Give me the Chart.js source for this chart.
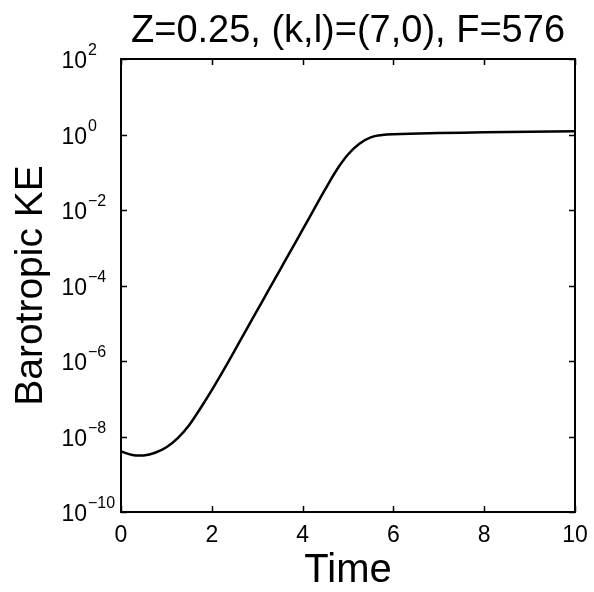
<!DOCTYPE html>
<html>
<head>
<meta charset="utf-8">
<script src="https://cdn.jsdelivr.net/npm/chart.js@4"></script>
<style>
  html, body { margin: 0; padding: 0; background: #fff; }
  canvas { display: block; }
</style>
</head>
<body>
<canvas id="c" width="594" height="592"></canvas>
<script>
// Barotropic kinetic energy against time (log scale)
const timeValues = [
  0, 0.25, 0.5, 0.75, 1.0, 1.25, 1.5, 1.75, 2.0, 2.25, 2.5, 2.75, 3.0,
  3.25, 3.5, 3.75, 4.0, 4.25, 4.5, 4.75, 5.0, 5.25, 5.5, 5.75, 6.0,
  7.0, 8.0, 9.0, 10.0
];
const keValues = [
  4.0e-9, 3.24e-9, 3.16e-9, 3.7e-9, 5.2e-9, 9.1e-9, 2.0e-8, 5.6e-8, 1.7e-7,
  5.5e-7, 1.86e-6, 6.4e-6, 2.19e-5, 7.5e-5, 2.57e-4, 8.8e-4, 3.0e-3, 1.04e-2,
  3.55e-2, 0.115, 0.295, 0.57, 0.84, 0.97, 1.02, 1.09, 1.14, 1.18, 1.22
];
const xTickValues = [0, 2, 4, 6, 8, 10];
const yTickExponents = [2, 0, -2, -4, -6, -8, -10];
const titleText = 'Z=0.25, (k,l)=(7,0), F=576';
const xTitleText = 'Time';
const yTitleText = 'Barotropic KE';

const FONT = '"Liberation Sans", Arial, Helvetica, sans-serif';

// Frame, inward ticks, tick labels and titles drawn from the chart's scales
const axesPlugin = {
  id: 'axesFrame',
  afterDraw(chart) {
    const { ctx, chartArea: a, scales } = chart;
    const xs = scales.x, ys = scales.y;
    const tickLen = 6;
    ctx.save();
    ctx.strokeStyle = '#000';
    ctx.fillStyle = '#000';

    // frame
    ctx.lineWidth = 2;
    ctx.strokeRect(a.left, a.top, a.right - a.left, a.bottom - a.top);

    // ticks
    ctx.lineWidth = 1.5;
    ctx.beginPath();
    xTickValues.forEach(v => {
      const px = Math.round(xs.getPixelForValue(v)) + 0.5;
      ctx.moveTo(px, a.bottom); ctx.lineTo(px, a.bottom - tickLen);
      ctx.moveTo(px, a.top); ctx.lineTo(px, a.top + tickLen);
    });
    yTickExponents.forEach(e => {
      const py = Math.round(ys.getPixelForValue(Math.pow(10, e))) + 0.5;
      ctx.moveTo(a.left, py); ctx.lineTo(a.left + tickLen, py);
      ctx.moveTo(a.right, py); ctx.lineTo(a.right - tickLen, py);
    });
    ctx.stroke();

    // x tick labels
    ctx.font = '23px ' + FONT;
    ctx.textAlign = 'center';
    ctx.textBaseline = 'alphabetic';
    xTickValues.forEach(v => {
      ctx.fillText(String(v), xs.getPixelForValue(v), a.bottom + 30);
    });

    // y tick labels: 10 with a raised exponent
    yTickExponents.forEach(e => {
      const py = ys.getPixelForValue(Math.pow(10, e));
      ctx.font = '23px ' + FONT;
      ctx.textAlign = 'right';
      ctx.fillText('10', 87, py + 9);
      ctx.font = '16px ' + FONT;
      ctx.textAlign = 'left';
      ctx.fillText(String(e).replace('-', '\u2212'), 88, py - 4);
    });

    // titles
    ctx.font = '38px ' + FONT;
    ctx.textAlign = 'center';
    ctx.fillText(titleText, (a.left + a.right) / 2, 42);

    ctx.font = '40px ' + FONT;
    ctx.fillText(xTitleText, (a.left + a.right) / 2, 582);

    ctx.save();
    ctx.translate(42, (a.top + a.bottom) / 2);
    ctx.rotate(-Math.PI / 2);
    ctx.font = '39px ' + FONT;
    ctx.fillText(yTitleText, 0, 0);
    ctx.restore();

    ctx.restore();
  }
};

new Chart(document.getElementById('c'), {
  type: 'line',
  data: {
    datasets: [{
      data: timeValues.map((t, i) => ({ x: t, y: keValues[i] })),
      borderColor: '#000',
      borderWidth: 2.5,
      pointRadius: 0,
      fill: false,
      tension: 0.4
    }]
  },
  options: {
    responsive: false,
    animation: false,
    devicePixelRatio: 1,
    layout: { padding: { left: 121, top: 59, right: 19, bottom: 80 } },
    plugins: { legend: { display: false }, tooltip: { enabled: false }, title: { display: false } },
    scales: {
      x: { type: 'linear', min: 0, max: 10, display: false },
      y: { type: 'logarithmic', min: 1e-10, max: 1e2, display: false }
    }
  },
  plugins: [axesPlugin]
});
</script>
</body>
</html>
